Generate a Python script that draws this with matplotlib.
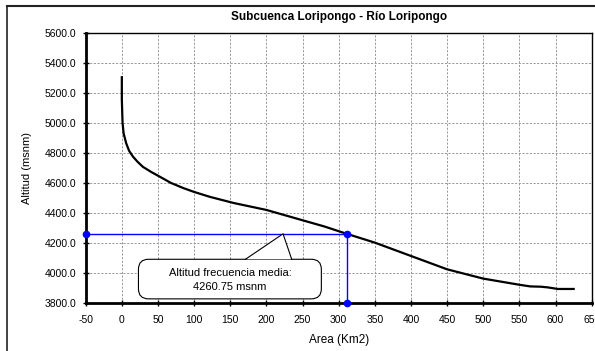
import matplotlib
matplotlib.use("Agg")
import matplotlib.pyplot as plt
from matplotlib.patches import FancyBboxPatch, Polygon
from matplotlib.lines import Line2D

plt.rcParams["font.family"] = ["Liberation Sans", "DejaVu Sans"]
plt.rcParams["axes.unicode_minus"] = False

# hypsometric curve
area = [0, 0, 1, 2.5, 6, 10, 15.5, 22, 29, 40, 52, 68, 85, 100, 122, 155,
        200, 245, 280, 311, 350, 400, 450, 500, 550, 565, 580, 590, 603, 625]
altitud = [5305, 5160, 5000, 4930, 4865, 4815, 4775, 4740, 4708, 4675, 4643,
           4600, 4566, 4540, 4507, 4466, 4420, 4358, 4310, 4261, 4202, 4113,
           4024, 3962, 3921, 3910, 3908, 3903, 3893, 3893]

alt_media = 4260.75
area_media = 311.4
x_min, x_max = -50, 650
y_min, y_max = 3800, 5600

fig = plt.figure(figsize=(5.95, 3.51), dpi=100)
ax = fig.add_axes([0.144, 0.137, 0.8505, 0.769])

ax.plot(area, altitud, color="black", lw=1.6, zorder=3, solid_joinstyle="round")

# mean altitude guide lines
ax.plot([x_min, area_media], [alt_media, alt_media], color="#0000ff", lw=1,
        zorder=4, clip_on=False)
ax.plot([area_media, area_media], [alt_media, y_min], color="#0000ff", lw=1,
        zorder=4, clip_on=False)
ax.plot([x_min, area_media, area_media], [alt_media, alt_media, y_min], "o",
        color="#0000ff", ms=4.5, zorder=5, clip_on=False)

ax.set_xlim(x_min, x_max)
ax.set_ylim(y_min, y_max)
ax.set_xticks(range(x_min, x_max + 1, 50))
ax.set_yticks(range(y_min, y_max + 1, 200))
ax.yaxis.set_major_formatter(matplotlib.ticker.FormatStrFormatter("%.1f"))
ax.grid(True, color="#999999", ls=(0, (2.2, 1.6)), lw=0.7)
ax.set_axisbelow(True)
ax.tick_params(labelsize=7.5, direction="inout", length=5, width=1)
ax.tick_params(axis="x", pad=6)
ax.tick_params(axis="y", pad=4)
for s in ("left", "bottom"):
    ax.spines[s].set_linewidth(2)
for s in ("top", "right"):
    ax.spines[s].set_linewidth(1)

ax.set_title("Subcuenca Loripongo - Río Loripongo", fontsize=8.5, fontweight="bold", pad=9)
ax.set_ylabel("Altitud (msnm)", fontsize=8, labelpad=9)
ax.set_xlabel("Area (Km2)", fontsize=8.5, labelpad=7)

# callout box
bx0, bx1, by0, by1 = 23, 276, 3827, 4091
box = FancyBboxPatch((bx0, by0), bx1 - bx0, by1 - by0,
                     boxstyle="round,pad=0,rounding_size=14", mutation_aspect=4.8,
                     facecolor="white", edgecolor="black", lw=0.8, zorder=6)
ax.add_patch(box)
tip = (223, alt_media)
base = (171, 235)
ax.add_patch(Polygon([(base[0] + 1, by1), tip, (base[1] - 1, by1)], closed=True,
                     facecolor="white", edgecolor="none", zorder=7))
ax.plot([base[0], tip[0], base[1]], [by1, tip[1], by1], color="black", lw=0.8, zorder=8)
ax.text((bx0 + bx1) / 2, 4002, "Altitud frecuencia media:", ha="center", va="center",
        fontsize=8, zorder=9)
ax.text((bx0 + bx1) / 2, 3905, "4260.75 msnm", ha="center", va="center",
        fontsize=8, zorder=9)

# outer chart frame (top and left visible)
fig.add_artist(Line2D([7 / 595, 1], [1 - 6 / 351, 1 - 6 / 351], color="#222222", lw=1.5))
fig.add_artist(Line2D([7 / 595, 7 / 595], [0, 1 - 6 / 351], color="#222222", lw=1.2))

fig.savefig("out.png", dpi=100)
